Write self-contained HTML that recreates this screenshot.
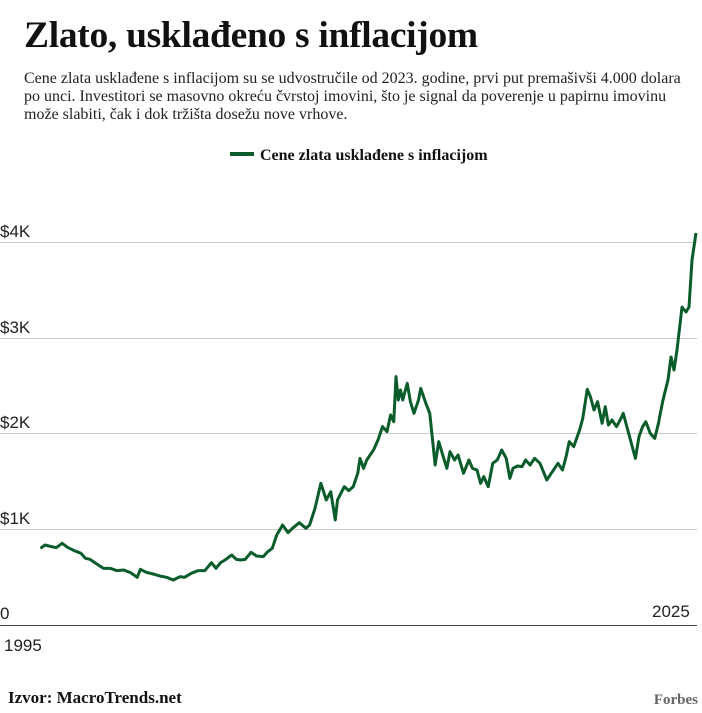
<!DOCTYPE html>
<html><head><meta charset="utf-8"><style>
body{margin:0;background:#fff;width:702px;height:713px;overflow:hidden;position:relative;font-family:"Liberation Serif",serif;color:#111}
h1{position:absolute;left:24px;top:14px;margin:0;font-size:37.5px;font-weight:bold;letter-spacing:-0.3px}
p.sub{position:absolute;left:24px;top:70px;margin:0;width:672px;font-size:16px;line-height:18px;color:#222}
.leg{position:absolute;left:230px;top:147px;font-size:16px;font-weight:bold}
.leg i{display:inline-block;width:24px;height:4px;background:#0a5c2a;vertical-align:middle;margin-right:6px;position:relative;top:-2px}
.lab{position:absolute;font-family:"Liberation Sans",sans-serif;font-size:17px;color:#222}
.src{position:absolute;left:8px;top:688px;font-size:17px;font-weight:bold}
.fb{position:absolute;right:4px;top:692px;font-size:15px;font-weight:bold;color:#666}
</style></head><body>
<h1>Zlato, usklađeno s inflacijom</h1>
<p class="sub">Cene zlata usklađene s inflacijom su se udvostručile od 2023. godine, prvi put premašivši 4.000 dolara<br>po unci. Investitori se masovno okreću čvrstoj imovini, što je signal da poverenje u papirnu imovinu<br>može slabiti, čak i dok tržišta dosežu nove vrhove.</p>
<div class="leg"><i></i>Cene zlata usklađene s inflacijom</div>
<svg width="702" height="713" style="position:absolute;left:0;top:0">
<g stroke="#c8c8c8" stroke-width="1">
<line x1="0" y1="242.5" x2="697" y2="242.5"/><line x1="0" y1="338.5" x2="697" y2="338.5"/>
<line x1="0" y1="433.5" x2="697" y2="433.5"/><line x1="0" y1="529.5" x2="697" y2="529.5"/>
</g>
<line x1="0" y1="625.5" x2="697" y2="625.5" stroke="#444" stroke-width="1"/>
<g fill="none" stroke="#0a5c2a" stroke-width="3" stroke-linejoin="round">
<polyline vector-effect="non-scaling-stroke" transform="translate(0,360) scale(0.45,0.33333)" points="90,565 100,555 115,560 125,563 138,550 150,562 165,572 180,580 190,595 200,598 215,612 230,625 245,625 260,632 275,630 290,638 305,652 312,628 325,637 340,642 355,648 370,652 385,660 400,650 410,652 425,640 440,632 455,632 470,608 480,625 490,608 500,600 515,585 525,598 535,600 545,598 558,577 570,588 585,590 595,575 605,565 615,525 628,495 640,518 650,505 665,488 680,505 688,495 700,445 713,370 725,420 735,395 745,480 750,420 765,380 775,392 785,380 795,340 800,295 808,325 815,300 830,270 840,240 850,200 860,215 868,165 875,185 880,50 885,120 890,90 895,120 900,95 905,70 912,125 920,160 930,120 935,85 945,125 955,160 962,250 967,315 975,245 985,290 993,325 1000,275 1010,300 1018,285 1030,340 1042,300 1050,325 1060,330 1068,370 1075,350 1085,380 1095,310 1105,300 1115,270 1125,295 1133,355 1140,325 1150,318 1160,320 1168,300 1178,315 1188,295 1200,310 1215,360 1225,340 1240,310 1250,330 1258,290 1265,245 1275,260 1288,210 1295,175 1305,88 1312,110 1320,150 1328,125 1338,190 1345,140 1352,195 1360,180 1370,200 1380,175 1385,160 1395,210 1405,260 1412,295 1420,230 1428,200 1435,185 1445,220 1455,235 1465,180"/>
<polyline points="659,420 663,400 668,380 671,357 674,370 677,350 682,307 686,312 689,307 692,260 696,233"/>
</g>
</svg>
<div class="lab" style="left:0;top:222px">$4K</div>
<div class="lab" style="left:0;top:318px">$3K</div>
<div class="lab" style="left:0;top:413px">$2K</div>
<div class="lab" style="left:0;top:509px">$1K</div>
<div class="lab" style="left:0;top:604px">0</div>
<div class="lab" style="left:652px;top:602px">2025</div>
<div class="lab" style="left:4px;top:636px">1995</div>
<div class="src">Izvor: MacroTrends.net</div>
<div class="fb">Forbes</div>
</body></html>
